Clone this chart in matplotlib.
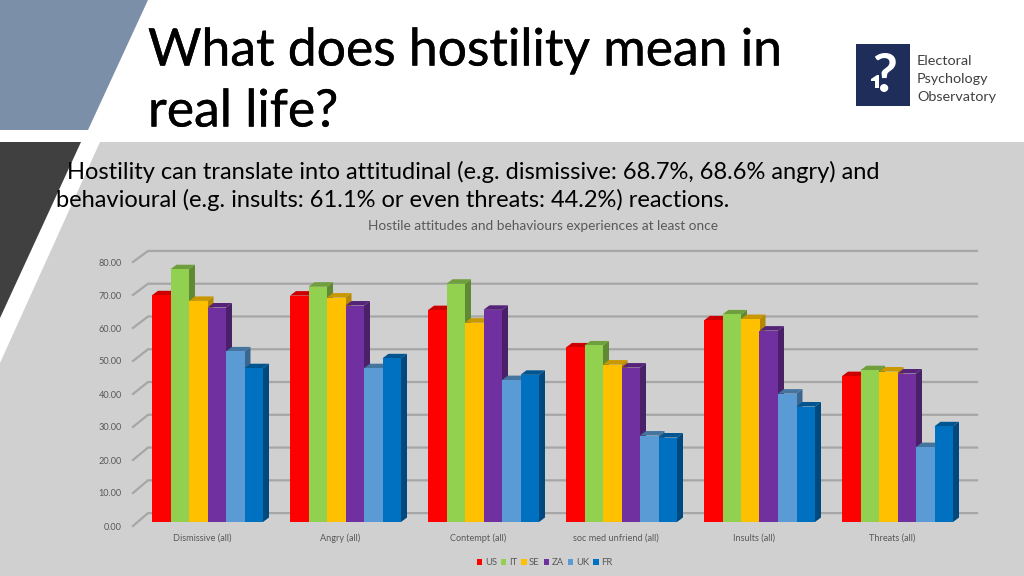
import matplotlib
matplotlib.use('Agg')
import matplotlib.pyplot as plt
import matplotlib.patheffects as pe
from matplotlib.patches import Polygon, Rectangle
from matplotlib.transforms import ScaledTranslation
import numpy as np

plt.rcParams['font.family'] = ['Lato', 'DejaVu Sans']

categories = ['Dismissive (all)', 'Angry (all)', 'Contempt (all)',
              'soc med unfriend (all)', 'Insults (all)', 'Threats (all)']
countries = ['US', 'IT', 'SE', 'ZA', 'UK', 'FR']
us = [68.7, 68.6, 64.2, 52.9, 61.1, 44.2]
it = [76.6, 71.3, 72.2, 53.5, 62.9, 46.0]
se = [67.0, 68.0, 60.4, 47.7, 61.5, 45.6]
za = [65.0, 65.6, 64.3, 46.8, 58.0, 45.0]
uk = [51.7, 46.6, 43.0, 26.2, 38.9, 22.7]
fr = [46.6, 49.6, 44.6, 25.6, 35.0, 29.0]
series = [us, it, se, za, uk, fr]
yticks = [0, 10, 20, 30, 40, 50, 60, 70, 80]

front_colors = ['#ff0000', '#92d050', '#ffc000', '#7030a0', '#5b9bd5', '#0070c0']
top_colors = ['#cc0000', '#6f9e3c', '#c99700', '#552479', '#44759f', '#005490']
side_colors = ['#a80000', '#5f8a33', '#b58800', '#4a2069', '#3b6690', '#00497e']

W, H = 1024, 576
fig = plt.figure(figsize=(10.24, 5.76), dpi=100, facecolor='white')

# background shapes, in pixels
bg = fig.add_axes([0, 0, 1, 1])
bg.set_xlim(0, W)
bg.set_ylim(H, 0)
bg.axis('off')
bg.add_patch(Polygon([(0, 0), (148, 0), (88, 130), (0, 130)], color='#7b8fa9', lw=0))
bg.add_patch(Polygon([(0, 142), (81, 142), (0, 318)], color='#404040', lw=0))
bg.add_patch(Polygon([(100, 142), (W, 142), (W, H), (0, H), (0, 363)], color='#d0d0d0', lw=0))

title_fx = [pe.withStroke(linewidth=0.3, foreground='black')]
bg.text(148, 51, 'What does hostility mean in', fontsize=37.2, va='center', color='black',
        path_effects=title_fx)
bg.text(148, 112, 'real life?', fontsize=37.2, va='center', color='black', path_effects=title_fx)

bg.text(67, 172, 'Hostility can translate into attitudinal (e.g. dismissive: 68.7%, 68.6% angry) and',
        fontsize=17.05, va='center', color='black')
bg.text(56, 200, 'behavioural (e.g. insults: 61.1% or even threats: 44.2%) reactions.',
        fontsize=17.05, va='center', color='black')
bg.text(543, 226, 'Hostile attitudes and behaviours experiences at least once',
        fontsize=9.8, ha='center', va='center', color='#595959')

# logo
bg.add_patch(Rectangle((856, 44), 54, 62, color='#1f2d5a', lw=0))
bg.text(885, 76, '?', fontsize=39, fontweight='bold', color='white', ha='center', va='center')
bg.add_patch(Polygon([(871, 79), (877, 75), (879, 75), (879, 88), (875, 88), (875, 81), (871, 81)],
                     color='white', lw=0))
for txt, y in zip(['Electoral', 'Psychology', 'Observatory'], [61, 79, 97]):
    bg.text(917, y, txt, fontsize=10.4, color='#404040', va='center')

# chart, y=0 sits at pixel 522, 80 at 258
x0, x1 = 133, 977
y0, y80 = 522, 258
ax = fig.add_axes([x0 / W, 1 - y0 / H, (x1 - x0) / W, (y0 - y80) / H])
ax.patch.set_alpha(0)
group_px = 138.0
center_px = 207.5
ax.set_xlim((x0 - center_px) / group_px, (x1 - center_px) / group_px)
ax.set_ylim(0, 80)
for s in ax.spines.values():
    s.set_visible(False)

px_x = 1 / group_px
px_y = 80 / (y0 - y80)

# back wall and the slanted floor lines
for v in yticks:
    front = v - 1.2
    back = v * 0.993 + 2.7
    xl = ax.get_xlim()
    ax.plot([xl[0], xl[0] + 15 * px_x, xl[1]], [front, back, back], color='#a6a6a6',
            lw=1.6, clip_on=False, zorder=1, solid_joinstyle='miter')

# 3d bars: front from ax.bar, top and side polygons from the same values
width = 18.5 * px_x
dx = 6 * px_x
dy = 4.5 * px_y
n = len(series)
for j, (vals, fc, tc, sc) in enumerate(zip(series, front_colors, top_colors, side_colors)):
    xs = np.arange(len(categories)) + (j - (n - 1) / 2) * width
    for x, v in zip(xs, vals):
        ax.add_patch(Polygon([(x + width / 2, 0), (x + width / 2 + dx, dy),
                              (x + width / 2 + dx, v + dy), (x + width / 2, v)],
                             color=sc, lw=0, zorder=2 + j, clip_on=False))
        ax.add_patch(Polygon([(x - width / 2, v), (x - width / 2 + dx, v + dy),
                              (x + width / 2 + dx, v + dy), (x + width / 2, v)],
                             color=tc, lw=0, zorder=2 + j, clip_on=False))
    ax.bar(xs, vals, width=width, color=fc, zorder=2 + j, label=countries[j])

ax.set_yticks(yticks)
ax.set_yticklabels(['%.2f' % v for v in yticks])
ax.set_xticks(np.arange(len(categories)) - 5.5 * px_x)
ax.set_xticklabels(categories)
ax.tick_params(axis='both', length=0, labelsize=6.6, labelcolor='#595959')
ax.tick_params(axis='y', pad=8)
ax.tick_params(axis='x', pad=8.5)
for lab in ax.get_yticklabels():
    lab.set_transform(lab.get_transform() + ScaledTranslation(0, -4 / 100, fig.dpi_scale_trans))

leg = ax.legend(loc='center', bbox_to_anchor=((544.5 - x0) / (x1 - x0), (y0 - 562.5) / (y0 - y80)),
                ncol=6, frameon=False, fontsize=6.8, handlelength=0.6, handleheight=0.6,
                handletextpad=0.25, columnspacing=0.42, labelcolor='#595959')

fig.savefig('out.png', dpi=100)
